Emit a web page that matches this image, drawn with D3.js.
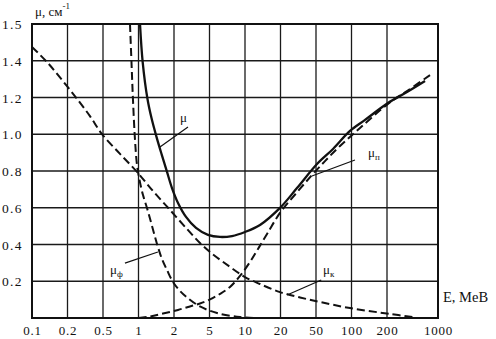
<!DOCTYPE html>
<html>
<head>
<meta charset="utf-8">
<script src="https://cdn.jsdelivr.net/npm/d3@7"></script>
<style>
  html, body { margin: 0; padding: 0; background: #fff; }
  svg { display: block; }
  text { font-family: "Liberation Serif", "DejaVu Serif", serif; fill: #111; }
</style>
</head>
<body>
<script>
// Energy grid (MeV) and its labels
const energyTicks = [0.1, 0.2, 0.5, 1, 2, 5, 10, 20, 50, 100, 200, 1000];
const energyLabels = ["0.1", "0.2", "0.5", "1", "2", "5", "10", "20", "50", "100", "200", "1000"];

// Attenuation grid (cm^-1) and its labels
const muTicks = [0.2, 0.4, 0.6, 0.8, 1.0, 1.2, 1.4, 1.6];
const muLabels = ["0.2", "0.4", "0.6", "0.8", "1.0", "1.2", "1.4", "1.5"];

// Total attenuation coefficient μ
const totalE = [1.03, 1.085, 1.192, 1.289, 1.415, 1.576, 1.745, 1.923, 2.218, 2.727, 3.53, 4.81, 6.14, 7.76, 10, 13.4, 19.8, 30.6, 51, 69.7, 97.1, 130.2, 206, 376, 664];
const totalMu = [1.6, 1.393, 1.192, 1.088, 0.99, 0.888, 0.795, 0.707, 0.626, 0.55, 0.49, 0.452, 0.441, 0.446, 0.468, 0.506, 0.599, 0.707, 0.838, 0.92, 1.018, 1.078, 1.17, 1.23, 1.29];

// Photoelectric absorption μф
const photoE = [0.847, 0.872, 0.898, 0.934, 0.971, 1.02, 1.092, 1.18, 1.302, 1.435, 1.582, 1.745, 1.961, 2.336, 2.8, 3.91, 5.79, 9.07, 12.64];
const photoMu = [1.6, 1.393, 1.186, 0.969, 0.833, 0.751, 0.669, 0.599, 0.501, 0.403, 0.321, 0.261, 0.196, 0.147, 0.112, 0.063, 0.027, 0.005, 0];

// Compton scattering μк
const comptonE = [0.1, 0.134, 0.18, 0.262, 0.357, 0.487, 0.697, 0.971, 1.327, 1.85, 2.8, 3.91, 5.05, 7.46, 10, 13.4, 19.8, 33.1, 54.1, 97.1, 220, 455];
const comptonMu = [1.475, 1.393, 1.295, 1.186, 1.099, 1.001, 0.893, 0.795, 0.691, 0.588, 0.484, 0.408, 0.359, 0.278, 0.223, 0.185, 0.141, 0.112, 0.087, 0.054, 0.022, 0.005];

// Pair production μп
const pairE = [1.0, 1.252, 1.613, 2.218, 3.02, 3.91, 5.05, 6.14, 7.46, 9.07, 11.03, 12.89, 15.37, 19.8, 30.6, 45.1, 59.6, 79.9, 118, 206, 376, 777];
const pairMu = [0, 0.008, 0.024, 0.044, 0.063, 0.079, 0.101, 0.131, 0.169, 0.229, 0.305, 0.376, 0.457, 0.572, 0.684, 0.778, 0.854, 0.936, 1.034, 1.165, 1.235, 1.322];

// Curve labels: text anchor and leader line (from -> to), in data units
const labelNames = ["μ", "μ", "μ", "μ"];
const labelSubs = ["", "ф", "к", "п"];
const labelAt = [[2.33, 1.067], [0.573, 0.239], [57.3, 0.239], [138, 0.876]];
const leaderFrom = [[2.87, 1.039], [0.767, 0.299], [55.4, 0.207], [107, 0.86]];
const leaderTo = [[1.52, 0.93], [1.46, 0.359], [23.7, 0.125], [45, 0.773]];

const W = 496, H = 339;
const plotLeft = 32, plotRight = 438, plotTop = 24, plotBottom = 318;
const step = 35.5;

const svg = d3.select("body").append("svg")
  .attr("width", W).attr("height", H)
  .attr("viewBox", `0 0 ${W} ${H}`);

// Piecewise scale on log10(E): evenly spaced grid, last division wider
const xRange = energyTicks.map((d, i) => i < energyTicks.length - 1 ? plotLeft + i * step : plotRight);
const xLog = d3.scaleLinear().domain(energyTicks.map(Math.log10)).range(xRange);
const x = e => xLog(Math.log10(e));
const y = d3.scaleLinear().domain([0, 1.6]).range([plotBottom, plotTop]);

// Grid
const grid = svg.append("g").attr("stroke", "#1a1a1a").attr("stroke-width", 1.3);
grid.selectAll("line.v").data(energyTicks).join("line")
  .attr("class", "v")
  .attr("x1", d => x(d)).attr("x2", d => x(d))
  .attr("y1", plotTop).attr("y2", plotBottom);
grid.selectAll("line.h").data(muTicks).join("line")
  .attr("class", "h")
  .attr("x1", plotLeft).attr("x2", plotRight)
  .attr("y1", d => y(d)).attr("y2", d => y(d));

// Frame
svg.append("rect")
  .attr("x", plotLeft).attr("y", plotTop)
  .attr("width", plotRight - plotLeft).attr("height", plotBottom - plotTop)
  .attr("fill", "none").attr("stroke", "#111").attr("stroke-width", 2);

// Axes (labels only)
const xAxis = d3.axisBottom(xLog)
  .tickValues(energyTicks.map(Math.log10))
  .tickFormat((d, i) => energyLabels[i])
  .tickSize(0).tickPadding(0);
const gx = svg.append("g").attr("transform", `translate(0,${plotBottom})`).call(xAxis);
gx.select(".domain").remove();
gx.selectAll("text")
  .attr("y", 17).attr("dy", 0)
  .style("font-family", "'Liberation Serif', serif")
  .style("font-size", "13px").style("letter-spacing", "0.8px").attr("fill", "#111");

const yAxis = d3.axisLeft(y)
  .tickValues(muTicks)
  .tickFormat((d, i) => muLabels[i])
  .tickSize(0).tickPadding(0);
const gy = svg.append("g").attr("transform", `translate(${plotLeft - 9},0)`).call(yAxis);
gy.select(".domain").remove();
gy.selectAll("text")
  .attr("x", 0).attr("dy", "0.34em")
  .style("font-family", "'Liberation Serif', serif")
  .style("font-size", "13.5px").style("letter-spacing", "1.4px").attr("fill", "#111");

// Axis titles
const yt = svg.append("text").attr("x", 35).attr("y", 16).style("font-size", "13px");
yt.append("tspan").text("μ, см");
yt.append("tspan").attr("dy", -7).style("font-size", "9px").text("-1");

svg.append("text").attr("x", 443).attr("y", 302).style("font-size", "14.5px").text("E, MeB");

// Curves
const line = d3.line().x(d => x(d[0])).y(d => y(d[1])).curve(d3.curveCatmullRom.alpha(0.5));
const zip = (a, b) => a.map((d, i) => [d, b[i]]);

const curves = [
  { pts: zip(photoE, photoMu), dash: "8,4" },
  { pts: zip(comptonE, comptonMu), dash: "8,4" },
  { pts: zip(pairE, pairMu), dash: "8,4" },
  { pts: zip(totalE, totalMu), dash: null }
];

svg.append("g").selectAll("path").data(curves).join("path")
  .attr("d", d => line(d.pts))
  .attr("fill", "none")
  .attr("stroke", "#111")
  .attr("stroke-width", d => d.dash ? 2 : 2.3)
  .attr("stroke-dasharray", d => d.dash)
  .attr("stroke-linejoin", "round");

// Leader lines and curve labels
const ann = svg.append("g");
ann.selectAll("line").data(labelNames).join("line")
  .attr("x1", (d, i) => x(leaderFrom[i][0])).attr("y1", (d, i) => y(leaderFrom[i][1]))
  .attr("x2", (d, i) => x(leaderTo[i][0])).attr("y2", (d, i) => y(leaderTo[i][1]))
  .attr("stroke", "#111").attr("stroke-width", 1.2);

const lt = ann.selectAll("text").data(labelNames).join("text")
  .attr("x", (d, i) => x(labelAt[i][0]))
  .attr("y", (d, i) => y(labelAt[i][1]))
  .style("font-size", "13px");
lt.append("tspan").text(d => d);
lt.append("tspan").attr("dy", 3).style("font-size", "9px").text((d, i) => labelSubs[i]);
</script>
</body>
</html>
